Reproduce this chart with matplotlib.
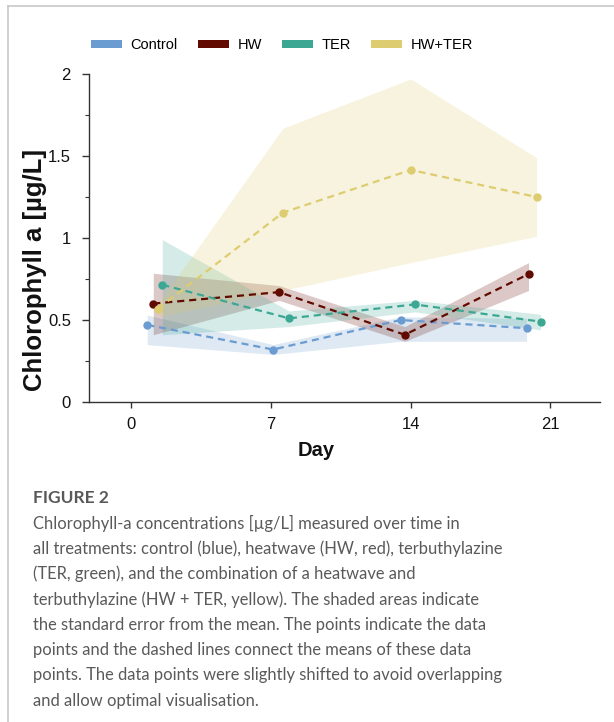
import matplotlib
matplotlib.use("Agg")
import matplotlib.pyplot as plt
from matplotlib.patches import Patch
from matplotlib.lines import Line2D
from matplotlib.ticker import MultipleLocator, FixedLocator

plt.rcParams['font.family'] = ['Liberation Sans', 'DejaVu Sans']

# ---------------- data ----------------
series_names = ["Control", "HW", "TER", "HW+TER"]
series_colors = ["#6a9bd1", "#600a00", "#3ca894", "#decc70"]

days_control = [0.8, 7.1, 13.5, 19.8]
control_mean = [0.47, 0.32, 0.50, 0.45]
control_lo = [0.35, 0.29, 0.37, 0.37]
control_hi = [0.53, 0.35, 0.52, 0.51]

days_hw = [1.1, 7.4, 13.7, 19.9]
hw_mean = [0.60, 0.67, 0.41, 0.78]
hw_lo = [0.41, 0.62, 0.37, 0.68]
hw_hi = [0.785, 0.71, 0.46, 0.85]

days_ter = [1.55, 7.9, 14.2, 20.5]
ter_mean = [0.715, 0.51, 0.595, 0.49]
ter_lo = [0.41, 0.46, 0.55, 0.44]
ter_hi = [0.99, 0.555, 0.62, 0.535]

days_hwter = [1.35, 7.6, 14.0, 20.3]
hwter_mean = [0.57, 1.155, 1.415, 1.25]
hwter_lo = [0.52, 0.68, 0.85, 1.01]
hwter_hi = [0.60, 1.67, 1.97, 1.49]

x_ticks = [0, 7, 14, 21]
y_ticks = [0, 0.5, 1, 1.5, 2]
y_tick_labels = ["0", "0.5", "1", "1.5", "2"]

caption_title = "FIGURE 2"
caption_lines = [
    "Chlorophyll-a concentrations [µg/L] measured over time in",
    "all treatments: control (blue), heatwave (HW, red), terbuthylazine",
    "(TER, green), and the combination of a heatwave and",
    "terbuthylazine (HW + TER, yellow). The shaded areas indicate",
    "the standard error from the mean. The points indicate the data",
    "points and the dashed lines connect the means of these data",
    "points. The data points were slightly shifted to avoid overlapping",
    "and allow optimal visualisation.",
]

series = [
    (days_control, control_mean, control_lo, control_hi),
    (days_hw, hw_mean, hw_lo, hw_hi),
    (days_ter, ter_mean, ter_lo, ter_hi),
    (days_hwter, hwter_mean, hwter_lo, hwter_hi),
]

# ---------------- figure ----------------
W, H = 614, 722
fig = plt.figure(figsize=(W / 100, H / 100), dpi=100)

ax_l, ax_r, ax_t, ax_b = 89, 600, 74, 402
ax = fig.add_axes([ax_l / W, 1 - ax_b / H, (ax_r - ax_l) / W, (ax_b - ax_t) / H])

for (d, m, lo, hi), c in zip(series, series_colors):
    ax.fill_between(d, lo, hi, color=c, alpha=0.22, linewidth=0, zorder=1)
for (d, m, lo, hi), c in zip(series, series_colors):
    ax.plot(d, m, linestyle=(0, (3.2, 2.2)), color=c, linewidth=1.6, zorder=3)
    ax.plot(d, m, linestyle="none", marker="o", markersize=5, color=c, zorder=4)

ax.set_xlim(-2.12, 23.48)
ax.set_ylim(0, 2)
ax.spines['top'].set_visible(False)
ax.spines['right'].set_visible(False)
for s in ['left', 'bottom']:
    ax.spines[s].set_color('#333333')
    ax.spines[s].set_linewidth(1.0)

ax.xaxis.set_major_locator(FixedLocator(x_ticks))
ax.set_xticklabels([str(t) for t in x_ticks])
ax.yaxis.set_major_locator(FixedLocator(y_ticks))
ax.set_yticklabels(y_tick_labels)
ax.yaxis.set_minor_locator(MultipleLocator(0.25))
ax.tick_params(axis='both', which='major', direction='out', length=5, width=1,
               color='#333333', labelsize=12, labelcolor='#111111')
ax.tick_params(axis='y', which='major', pad=8)
ax.tick_params(axis='x', which='major', pad=7, length=4)
ax.tick_params(axis='y', which='minor', direction='out', length=3, width=0.8, color='#333333')

# axis labels as figure text (positioned like the reference)
fig.text(35 / W, 1 - 270 / H, "Chlorophyll a [µg/L]", rotation=90, ha='center', va='center',
         fontsize=18.5, fontweight='bold', color='#111111')
fig.text(316.5 / W, 1 - 450 / H, "Day", ha='center', va='center',
         fontsize=14.5, fontweight='bold', color='#111111')

# legend
handles = [Patch(facecolor=c, edgecolor='none') for c in series_colors]
fig.legend(handles, series_names, loc='center', bbox_to_anchor=(282 / W, 1 - 45 / H),
           ncol=4, frameon=False, fontsize=10.5, handlelength=2.1, handleheight=0.45,
           handletextpad=0.6, columnspacing=1.4)

# caption
cap_font = ['Lato', 'DejaVu Sans']
fig.text(33 / W, 1 - 498 / H, caption_title, ha='left', va='center', fontsize=12.5,
         fontweight='bold', color='#595959', family=cap_font)
for i, line in enumerate(caption_lines):
    fig.text(33 / W, 1 - (523.5 + i * 25.3) / H, line, ha='left', va='center', fontsize=11.9,
             color='#5a5a5a', family=cap_font)

# frame lines (left and top borders)
fig.add_artist(Line2D([7.5 / W, 7.5 / W], [0, 1 - 5.5 / H], transform=fig.transFigure,
                      color='#c8c8c8', linewidth=1.2))
fig.add_artist(Line2D([7.5 / W, 1], [1 - 5.5 / H, 1 - 5.5 / H], transform=fig.transFigure,
                      color='#c8c8c8', linewidth=1.2))

fig.savefig("out.png", dpi=100)
